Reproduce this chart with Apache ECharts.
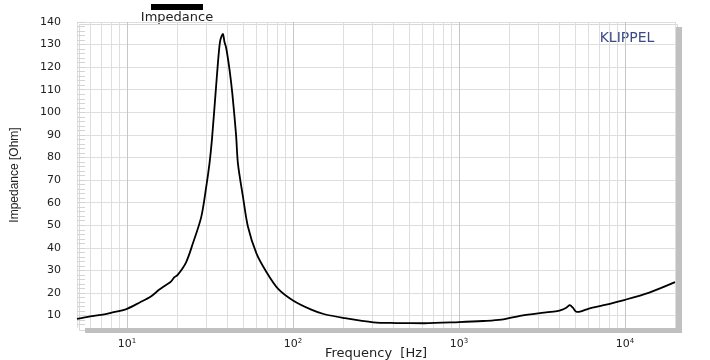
<!DOCTYPE html>
<html>
<head>
<meta charset="utf-8">
<script src="https://cdn.jsdelivr.net/npm/echarts@6/dist/echarts.min.js"></script>
<style>
  html, body { margin: 0; padding: 0; background: #fff; }
  #main { width: 710px; height: 360px; }
</style>
</head>
<body>
<div id="main"></div>
<script>
var myChart = echarts.init(document.getElementById('main'));

// frequency [Hz] and impedance [Ohm]
var freq = [5, 6, 7, 8, 10, 12, 14, 15.6, 17, 18.4, 19.3, 20.2, 22.7, 24.9, 28, 30, 31.4, 32.5,
    34.4, 35.7, 36.5, 37.8, 38.7, 39.6, 41.5, 43.1, 45.4, 46.6, 50, 53.6, 60.3, 69.3, 81.4,
    100, 130, 153, 200, 305, 420, 616, 1000, 1400, 1800, 2380, 3140, 3900, 4150, 4450, 4650,
    4850, 5110, 5500, 6000, 7260, 10000, 14000, 20000];
var impedance = [8.5, 9.6, 10.3, 11.2, 13.0, 15.9, 18.6, 21.4, 23.3, 25.0, 27.0, 28.0, 33.6, 41.8, 53.6, 66.9, 77.3, 88,
    111.3, 126, 132, 134.7, 131, 128.5, 118.7, 108.4, 90, 77.3, 62.5, 49.2, 37.4, 29.2, 21.8,
    16.7, 12.5, 10.7, 9.0, 7.0, 6.7, 6.6, 7.1, 7.6, 8.2, 10.0, 11.2, 12.0, 12.5, 13.6, 14.6,
    13.5, 11.6, 12.0, 13.0, 14.4, 17.0, 20.2, 24.8];

var yLabels = [10, 20, 30, 40, 50, 60, 70, 80, 90, 100, 110, 120, 130, 140];
var yMinor = [];
for (var v = 6; v <= 140; v += 2) yMinor.push(v);
var xLabels = [10, 100, 1000, 10000];
var xGrid = [];
[1, 10, 100, 1000, 10000].forEach(function (d) {
    for (var k = 1; k < 10; k++) {
        var f = k * d;
        if (f >= 5 && f <= 20000) xGrid.push(f);
    }
});
xGrid.push(20000);

var points = [];
for (var i = 0; i < freq.length; i++) points.push([freq[i], impedance[i]]);

var font = 'DejaVu Sans';
var gridColors = ['#dedede', '#dedede', '#dedede', '#dedede', '#dedede', '#c6c6c6', '#dedede', '#dedede', '#dedede'];

option = {
    animation: false,
    backgroundColor: '#fff',
    grid: { left: 77, right: 35, top: 22, bottom: 32, containLabel: false, outerBoundsMode: 'none' },
    xAxis: {
        type: 'log',
        logBase: 10,
        min: 5,
        max: 20000,
        name: 'Frequency  [Hz]',
        nameLocation: 'middle',
        nameGap: 19,
        nameMoveOverlap: false,
        nameTextStyle: { fontFamily: font, fontSize: 13, color: '#222' },
        axisLine: { show: false },
        axisTick: { show: false, customValues: xGrid },
        axisLabel: {
            customValues: xLabels,
            margin: 10,
            formatter: function (val) {
                return '{b|10}{s|' + Math.round(Math.log10(val)) + '}';
            },
            rich: {
                b: { fontFamily: font, fontSize: 11, color: '#222' },
                s: { fontFamily: font, fontSize: 7, color: '#222', padding: [0, 0, 6, 0] }
            }
        },
        splitLine: { show: true, lineStyle: { color: gridColors, width: 1 } },
        minorSplitLine: { show: false }
    },
    yAxis: [{
        type: 'value',
        min: 4.5,
        max: 140,
        name: 'Impedance [Ohm]',
        nameLocation: 'middle',
        nameGap: 56,
        nameMoveOverlap: false,
        nameTextStyle: { fontFamily: 'Liberation Sans', fontSize: 12, color: '#222' },
        axisLine: { show: false },
        axisTick: { show: false, customValues: yLabels },
        axisLabel: { customValues: yLabels, margin: 16, fontFamily: font, fontSize: 11, color: '#222' },
        splitLine: { show: true, lineStyle: { color: '#dedede', width: 1 } }
    }, {
        type: 'value',
        min: 4.5,
        max: 140,
        position: 'left',
        axisLine: { show: false },
        axisTick: { show: true, inside: true, length: 8, customValues: yMinor, lineStyle: { color: '#d4d4d4' } },
        axisLabel: { show: false },
        splitLine: { show: false }
    }],
    graphic: [
        { type: 'rect', left: 675, top: 27, shape: { width: 7, height: 306 }, style: { fill: '#c0c0c0' } },
        { type: 'rect', left: 85, top: 328, shape: { width: 597, height: 5 }, style: { fill: '#c0c0c0' } },
        { type: 'rect', left: 77, top: 22, shape: { width: 598, height: 306 }, style: { fill: 'none', stroke: '#d8d8d8', lineWidth: 1 }, z: -1 },
        { type: 'rect', left: 151, top: 4, shape: { width: 52, height: 6 }, style: { fill: '#000' } },
        { type: 'text', x: 177, y: 11, style: { text: 'Impedance', fontFamily: font, fontSize: 13, fill: '#222', align: 'center', verticalAlign: 'top' } },
        { type: 'text', x: 627, y: 31, style: { text: 'KLIPPEL', fontFamily: font, fontSize: 14, fill: '#3b4a86', align: 'center', verticalAlign: 'top' } }
    ],
    series: [{
        name: 'Impedance',
        type: 'line',
        data: points,
        showSymbol: false,
        smooth: 0.3,
        lineStyle: { color: '#000', width: 1.8 },
        z: 3
    }]
};

myChart.setOption(option);
</script>
</body>
</html>
